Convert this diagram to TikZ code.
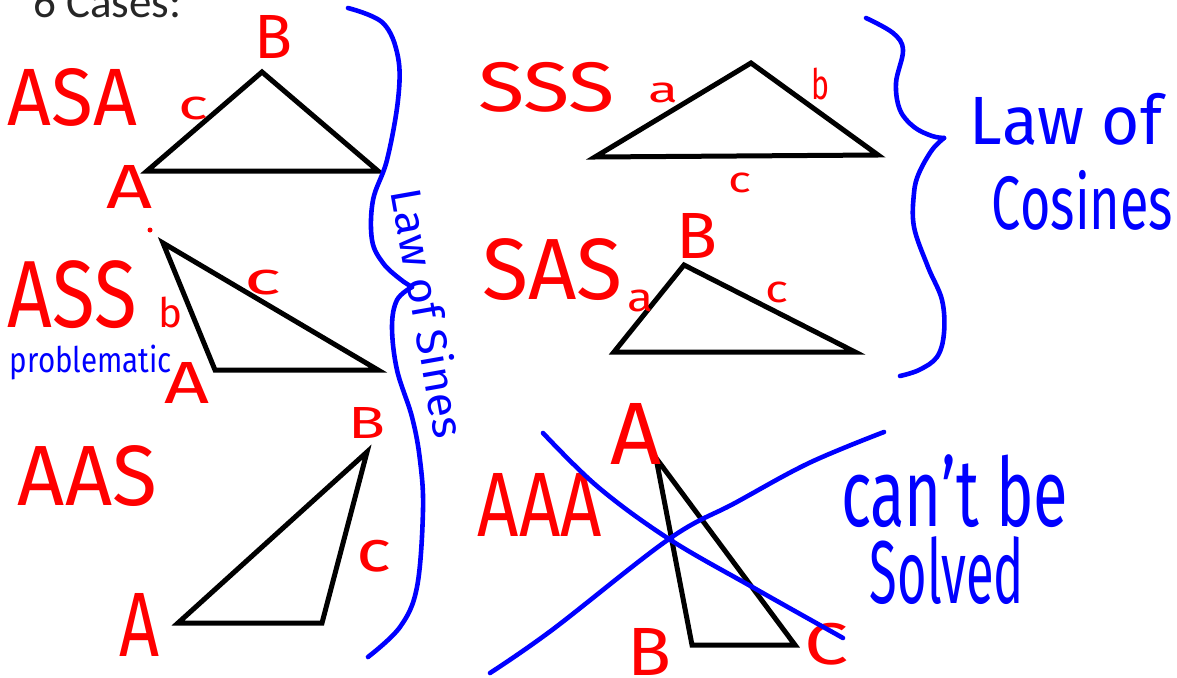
\documentclass[tikz,border=0pt]{standalone}
\usepackage{fontspec}
\setmainfont{Fira Sans}
\newfontfamily\calib{Carlito}
\usepackage{graphicx}
\tikzset{
  tri/.style={draw=black, line width=5pt, line join=miter},
  bluepen/.style={draw=blue, line width=4.6pt, line cap=round, line join=round},
  hand/.style={inner sep=0pt, outer sep=0pt, anchor=center},
  redt/.style={hand, text=red},
  bluet/.style={hand, text=blue},
}
\newcommand{\hwfit}[3]{\resizebox*{#1pt}{#2pt}{#3}}
\begin{document}
\begin{tikzpicture}[x=1pt,y=-1pt]
\fill[white] (0,0) rectangle (1177,677);
\useasboundingbox (0,0) rectangle (1177,677);

% title
\node[anchor=base west, inner sep=0pt, text=black!85] (title) at (33,18) {\calib\fontsize{45}{50}\selectfont 6 Cases:};

% ---- ASA ----
\coordinate (asaA) at (147,171);
\coordinate (asaB) at (262,72);
\coordinate (asaC) at (378,171);
\draw[tri] (asaA) -- (asaB) -- (asaC) -- cycle;
\node[redt] (asa) at (72.5,97) {\hwfit{129}{58}{ASA}};
\node[redt] (asaBl) at (274,36.5) {\hwfit{38}{43}{B}};
\node[redt] (asacl) at (193,108.5) {\hwfit{30}{23}{c}};
\node[redt] (asaAl) at (130,186.5) {\hwfit{46}{43}{A}};
\fill[red] (150,230) circle (2.5);

% ---- ASS ----
\coordinate (assT) at (163,243);
\coordinate (assL) at (215,370);
\coordinate (assR) at (378,370);
\draw[tri] (assT) -- (assL) -- (assR) -- cycle;
\node[redt] (ass) at (72.5,295) {\hwfit{129}{68}{ASS}};
\node[redt] (asscl) at (263.5,282.5) {\hwfit{37}{25}{c}};
\node[redt] (assbl) at (170,312.5) {\hwfit{24}{31}{b}};
\node[bluet] (probl) at (91,362.5) {\hwfit{162}{35}{problematic}};
\node[redt] (assAl) at (187.5,382.5) {\hwfit{45}{41}{A}};

% ---- AAS ----
\coordinate (aasA) at (178,623);
\coordinate (aasB) at (367,452);
\coordinate (aasC) at (322,623);
\draw[tri] (aasA) -- (aasB) -- (aasC) -- cycle;
\node[redt] (aas) at (87.5,476.5) {\hwfit{139}{61}{AAS}};
\node[redt] (aasBl) at (366.5,422.5) {\hwfit{37}{31}{B}};
\node[redt] (aascl) at (374.5,556) {\hwfit{35}{32}{c}};
\node[redt] (aasAl) at (140,624.5) {\hwfit{40}{63}{A}};

% ---- Law of Sines brace ----
\draw[bluepen] plot[smooth, tension=0.6] coordinates {(348,8) (383,23) (398,57) (398,100) (387,160) (373,200) (372,240) (383,263) (400,279) (412,287)};
\draw[bluepen] plot[smooth, tension=0.6] coordinates {(412,287) (397,300) (392,327) (397,370) (412,417) (420,460) (423,510) (417,587) (400,627) (368,657)};
\node[bluet, rotate=-80] (sines) at (429,313) {\hwfit{252}{34}{Law of Sines}};

% ---- SSS ----
\coordinate (sssL) at (595,157);
\coordinate (sssT) at (751,63);
\coordinate (sssR) at (878,155);
\draw[tri] (sssL) -- (sssT) -- (sssR) -- cycle;
\node[redt] (sss) at (546.5,87) {\hwfit{137}{50}{SSS}};
\node[redt] (sssal) at (663,93) {\hwfit{30}{20}{a}};
\node[redt] (sssbl) at (820,84) {\hwfit{18}{32}{b}};
\node[redt] (ssscl) at (739.5,183) {\hwfit{23}{20}{c}};

% ---- SAS ----
\coordinate (sasT) at (684,265);
\coordinate (sasL) at (614,352);
\coordinate (sasR) at (855,352);
\draw[tri] (sasT) -- (sasL) -- (sasR) -- cycle;
\node[redt] (sas) at (553,270) {\hwfit{140}{62}{SAS}};
\node[redt] (sasBl) at (696.5,235.5) {\hwfit{41}{45}{B}};
\node[redt] (sasal) at (640,301) {\hwfit{26}{22}{a}};
\node[redt] (sascl) at (776.5,292.5) {\hwfit{23}{21}{c}};

% ---- Law of Cosines brace ----
\draw[bluepen] plot[smooth, tension=0.6] coordinates {(866,18) (893,33) (903,50) (896,83) (900,110) (914,127) (932,136) (944,138)};
\draw[bluepen] plot[smooth, tension=0.6] coordinates {(944,138) (932,150) (919,173) (914,193) (914,227) (928,267) (942,300) (944,333) (937,357) (919,370) (900,376)};
\node[bluet] (lawof) at (1066,119) {\hwfit{192}{52}{Law of}};
\node[bluet] (cosines) at (1082.5,200) {\hwfit{181}{60}{Cosines}};

% ---- AAA ----
\coordinate (aaaA) at (656,458);
\coordinate (aaaB) at (692,645);
\coordinate (aaaC) at (795,645);
\draw[tri] (aaaA) -- (aaaB) -- (aaaC) -- cycle;
\node[redt] (aaa) at (540,504.5) {\hwfit{124}{63}{AAA}};
\node[redt] (aaaAl) at (636.5,433.5) {\hwfit{51}{61}{A}};
\node[redt] (aaaBl) at (649,651.5) {\hwfit{44}{47}{B}};
\node[redt] (aaaCl) at (826,644) {\hwfit{44}{42}{C}};
\draw[bluepen] plot[smooth, tension=0.6] coordinates {(543,433) (598,487) (669,539) (754,588) (843,638)};
\draw[bluepen] plot[smooth, tension=0.6] coordinates {(490,673) (552,630) (669,539) (735,503) (809,463) (884,432)};
\node[bluet] (cant) at (954.5,491.5) {\hwfit{227}{73}{can't be}};
\node[bluet] (solved) at (947,571) {\hwfit{154}{68}{Solved}};
\end{tikzpicture}
\end{document}
